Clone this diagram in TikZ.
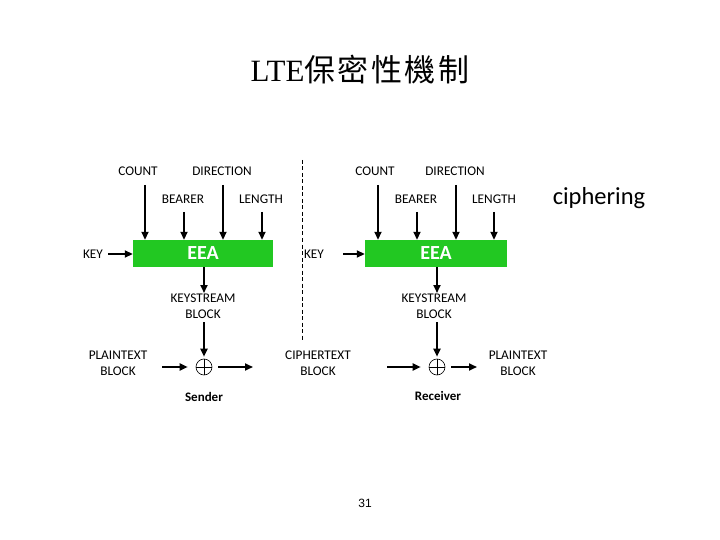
\documentclass[tikz,border=0pt]{standalone}
\usepackage{fontspec}
\setmainfont{Liberation Serif}
\setsansfont{Carlito}
\newfontfamily\cjk{Noto Sans CJK TC}
\newfontfamily\arialf{Liberation Sans}
\usetikzlibrary{arrows.meta}
\definecolor{eeagreen}{RGB}{34,200,34}
\begin{document}
\begin{tikzpicture}[x=1pt,y=-1pt,
  lbl/.style={font=\sffamily\fontsize{13.3}{15}\selectfont, inner sep=0pt, align=center},
  box/.style={fill=eeagreen, draw=none, minimum width=140pt, minimum height=27pt, inner sep=0pt,
     text=white, font=\sffamily\bfseries\fontsize{20}{22}\selectfont},
  arr/.style={-{Triangle[length=8pt,width=7pt]}, line width=1.8pt},
  xorn/.style={circle, draw, line width=0.6pt, minimum size=16pt, inner sep=0pt,
     path picture={\draw[line width=0.6pt] (path picture bounding box.north) -- (path picture bounding box.south)
       (path picture bounding box.west) -- (path picture bounding box.east);}},
  party/.style={font=\sffamily\bfseries\fontsize{13}{15}\selectfont, inner sep=0pt}]
\useasboundingbox (0,0) rectangle (720,540);

\node (title) at (360,70) {\fontsize{31}{34}\selectfont LTE{\cjk\addfontfeature{LetterSpace=8} 保密性機制}};

% ---------- Sender ----------
\node[box] (eeaL) at (203,253.5) {EEA};
\node[lbl] (countL) at (138,171) {COUNT};
\node[lbl] (dirL) at (222,171) {DIRECTION};
\node[lbl] (bearL) at (183,199) {BEARER};
\node[lbl] (lenL) at (261,199) {LENGTH};
\node[lbl] (keyL) at (93,254) {KEY};
\coordinate (cL) at (145,185);
\coordinate (dL) at (223,185);
\coordinate (bL) at (184,212);
\coordinate (lL) at (262,212);
\draw[arr] (cL) -- (cL |- eeaL.north);
\draw[arr] (dL) -- (dL |- eeaL.north);
\draw[arr] (bL) -- (bL |- eeaL.north);
\draw[arr] (lL) -- (lL |- eeaL.north);
\coordinate (kLs) at (108,254);
\draw[arr] (kLs) -- (eeaL.west |- kLs);

\node[lbl] (ksL) at (203,306.5) {KEYSTREAM\\[1pt]BLOCK};
\coordinate (ksLt) at (204,293);
\draw[arr] (eeaL.south -| ksLt) -- (ksLt);
\node[xorn] (xorL) at (204,367) {};
\coordinate (ksLb) at (204,322);
\draw[arr, shorten >=2pt] (ksLb) -- (xorL.north);
\node[lbl] (ptL) at (118,363.5) {PLAINTEXT\\[1pt]BLOCK};
\coordinate (ptLa) at (162,367);
\draw[arr, shorten >=8pt] (ptLa) -- (xorL.west);
\coordinate (ctLa) at (253,367);
\draw[arr, shorten <=6pt] (xorL.east) -- (ctLa);
\node[party] (sender) at (204,397) {Sender};

% ---------- divider ----------
\coordinate (dvt) at (302,160);
\coordinate (dvb) at (302,341);
\draw[line width=0.9pt, dash pattern=on 4pt off 2.5pt] (dvt) -- (dvb);

% ---------- Receiver ----------
\node[box, minimum width=142pt] (eeaR) at (436,253.5) {EEA};
\node[lbl] (countR) at (375,171) {COUNT};
\node[lbl] (dirR) at (455,171) {DIRECTION};
\node[lbl] (bearR) at (416,199) {BEARER};
\node[lbl] (lenR) at (494,199) {LENGTH};
\node[lbl] (keyR) at (314,254) {KEY};
\coordinate (cR) at (378,185);
\coordinate (dR) at (456,185);
\coordinate (bR) at (417,212);
\coordinate (lR) at (494,212);
\draw[arr] (cR) -- (cR |- eeaR.north);
\draw[arr] (dR) -- (dR |- eeaR.north);
\draw[arr] (bR) -- (bR |- eeaR.north);
\draw[arr] (lR) -- (lR |- eeaR.north);
\coordinate (kRs) at (343,254);
\draw[arr] (kRs) -- (eeaR.west |- kRs);

\node[lbl] (ksR) at (434,306.5) {KEYSTREAM\\[1pt]BLOCK};
\coordinate (ksRt) at (437,293);
\draw[arr] (eeaR.south -| ksRt) -- (ksRt);
\node[xorn] (xorR) at (437,367) {};
\coordinate (ksRb) at (437,322);
\draw[arr, shorten >=2pt] (ksRb) -- (xorR.north);
\node[lbl] (ctR) at (318,363.5) {CIPHERTEXT\\[1pt]BLOCK};
\coordinate (ctRa) at (387,367);
\draw[arr, shorten >=8pt] (ctRa) -- (xorR.west);
\coordinate (ptRa) at (477,367);
\draw[arr, shorten <=6pt] (xorR.east) -- (ptRa);
\node[lbl] (ptR) at (518,363.5) {PLAINTEXT\\[1pt]BLOCK};
\node[party] (receiver) at (438,396) {Receiver};

\node[font=\sffamily\fontsize{24.5}{28}\selectfont, inner sep=0pt] (ciph) at (599,198) {ciphering};

\node[font=\arialf\fontsize{12}{14}\selectfont, inner sep=0pt] (pg) at (365,503) {31};
\end{tikzpicture}
\end{document}
